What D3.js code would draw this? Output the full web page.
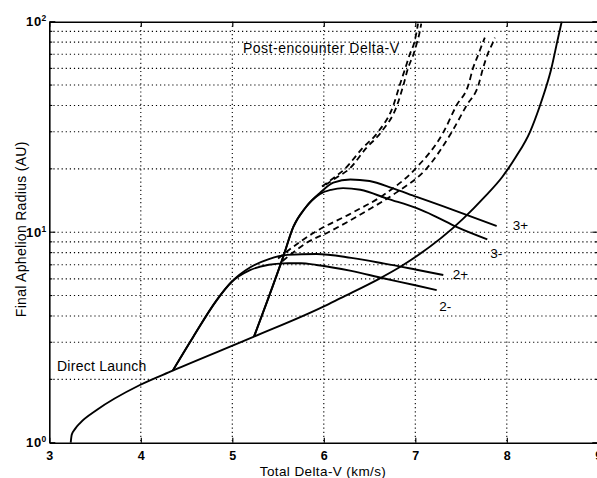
<!DOCTYPE html>
<html>
<head>
<meta charset="utf-8">
<script src="https://cdn.jsdelivr.net/npm/d3@7"></script>
<style>
  html, body { margin: 0; padding: 0; background: #fff; }
  svg { display: block; }
  text { font-family: "Liberation Sans", Arial, Helvetica, sans-serif; fill: #000; }
</style>
</head>
<body>
<svg id="chart" width="597" height="478"></svg>
<script>
// Total delta-V (km/s) vs final aphelion radius (AU)
const xTicks = [3, 4, 5, 6, 7, 8, 9];
const yDecades = [1, 10, 100];
const yDecadeExp = ["0", "1", "2"];

// Direct launch curve
const directLaunch = [
  [3.234, 1.0], [3.245, 1.09], [3.28, 1.16], [3.336, 1.24], [3.518, 1.43],
  [3.99, 1.88], [4.349, 2.20], [5.237, 3.19], [5.995, 4.43], [6.177, 4.85],
  [6.614, 6.04], [6.85, 6.91], [7.524, 11.6], [7.75, 14.6], [7.95, 18.3],
  [8.1, 22.8], [8.254, 30], [8.363, 40], [8.436, 50], [8.487, 60], [8.55, 80], [8.60, 100]
];

// Two-encounter branches
const curve2plus = [
  [4.349, 2.20], [4.574, 3.19], [4.83, 4.76], [4.993, 5.82], [5.193, 6.80],
  [5.40, 7.45], [5.6, 7.8], [5.92, 7.88], [6.3, 7.55],
  [6.65, 7.11], [7.0, 6.65], [7.306, 6.26]
];
const curve2minus = [
  [4.349, 2.20], [4.574, 3.19], [4.83, 4.76], [4.993, 5.80], [5.193, 6.6],
  [5.40, 7.0], [5.557, 7.11], [5.75, 7.12], [5.92, 6.99], [6.3, 6.55],
  [6.65, 6.04], [7.0, 5.6], [7.234, 5.31]
];

// Three-encounter branches
const curve3plus = [
  [5.237, 3.19], [5.393, 4.85], [5.557, 7.66], [5.667, 10.6], [5.795, 13.0],
  [5.96, 15.4], [6.104, 17.2], [6.29, 17.8], [6.5, 17.5], [6.75, 16.2],
  [7.015, 14.7], [7.3, 13.3], [7.56, 12.1], [7.889, 10.7]
];
const curve3minus = [
  [5.237, 3.19], [5.393, 4.85], [5.557, 7.66], [5.667, 10.6], [5.795, 13.0],
  [5.96, 15.2], [6.08, 15.9], [6.21, 16.2], [6.4, 15.9], [6.7, 14.4],
  [7.015, 13.0], [7.2, 12.0], [7.45, 10.6], [7.787, 9.25]
];

// Post-encounter delta-V curves (dashed)
const postA1 = [
  [5.98, 16.5], [6.1, 18], [6.23, 20], [6.42, 25], [6.595, 30], [6.76, 40],
  [6.83, 50], [6.89, 60], [6.94, 70], [6.99, 80], [7.015, 90], [7.03, 98]
];
const postA2 = [
  [6.02, 16.8], [6.14, 18.2], [6.28, 20], [6.46, 25], [6.63, 30], [6.80, 40],
  [6.87, 50], [6.92, 60], [6.98, 70], [7.02, 80], [7.05, 90], [7.065, 98]
];
const postB1 = [
  [5.50, 7.5], [5.74, 9], [5.90, 10], [6.3, 12.3], [6.65, 15], [7.0, 20],
  [7.31, 30], [7.45, 40], [7.58, 50], [7.63, 60], [7.69, 70], [7.74, 80], [7.76, 84]
];
const postB2 = [
  [5.55, 7.3], [5.83, 9], [6.05, 10], [6.45, 12.5], [6.8, 15.5], [7.12, 20],
  [7.40, 30], [7.56, 40], [7.69, 50], [7.74, 60], [7.79, 70], [7.85, 80], [7.87, 84]
];

const branchLabels = [
  { text: "3+", at: [7.889, 10.7], dx: 16, dy: 4 },
  { text: "3-", at: [7.787, 9.25], dx: 3, dy: 19 },
  { text: "2+", at: [7.306, 6.26], dx: 9.5, dy: 4 },
  { text: "2-", at: [7.234, 5.31], dx: 2.5, dy: 21 }
];

const svg = d3.select("#chart");
const plotL = 49.3, plotR = 598.3, plotT = 21.7, plotB = 442.7;

const x = d3.scaleLinear().domain([3, 9]).range([plotL, plotR]);
const y = d3.scaleLog().domain([1, 100]).range([plotB, plotT]);

// Dotted grid
const minorY = [];
for (let d = 1; d < 100; d *= 10) for (let m = 1; m <= 9; m++) if (d * m > 1) minorY.push(d * m);
const grid = svg.append("g").attr("stroke", "#000").attr("stroke-width", 1.1)
  .attr("stroke-dasharray", "1.2,2.9");
grid.selectAll("line.gy").data(minorY).join("line").attr("class", "gy")
  .attr("x1", plotL).attr("x2", plotR).attr("y1", d => y(d)).attr("y2", d => y(d));
grid.selectAll("line.gx").data(xTicks.slice(1, -1)).join("line").attr("class", "gx")
  .attr("x1", d => x(d)).attr("x2", d => x(d)).attr("y1", plotT).attr("y2", plotB);

// Axes
const axisStyle = g => {
  g.select(".domain").attr("stroke", "#000").attr("stroke-width", 1.6);
  g.selectAll(".tick line").attr("stroke", "#000").attr("stroke-width", 1.2);
};
svg.append("g").attr("transform", `translate(0,${plotB})`)
  .call(d3.axisBottom(x).tickValues(xTicks).tickSizeInner(-5).tickSizeOuter(0).tickPadding(8)
    .tickFormat(d3.format("d")))
  .call(axisStyle)
  .call(g => g.selectAll("text").attr("font-size", 12.5).attr("font-weight", "bold")
    .attr("font-family", "Liberation Sans, Arial, sans-serif"));
svg.append("g").attr("transform", `translate(0,${plotT})`)
  .call(d3.axisTop(x).tickValues(xTicks).tickSizeInner(-5).tickSizeOuter(0).tickFormat(""))
  .call(axisStyle);

const yAxisLine = d3.axisLeft(y).tickValues([]).tickSizeOuter(0);
svg.append("g").attr("transform", `translate(${plotL},0)`).call(yAxisLine).call(axisStyle);
svg.append("g").attr("transform", `translate(${plotR},0)`).call(yAxisLine).call(axisStyle);

// Inward y ticks: long at decades, short at minors
const yTickMarks = svg.append("g").attr("stroke", "#000").attr("stroke-width", 1.1);
[[plotL, 1], [plotR, -1]].forEach(([x0, dir]) => {
  yTickMarks.append("g").selectAll("line").data(minorY.concat([1, 100])).join("line")
    .attr("x1", x0).attr("x2", d => x0 + dir * (yDecades.includes(d) ? 6 : 3))
    .attr("y1", d => y(d)).attr("y2", d => y(d));
});

// Decade labels 10^n
const yLab = svg.append("g").attr("font-size", 13).attr("font-weight", "bold");
yDecades.forEach((d, i) => {
  yLab.append("text").attr("x", 42).attr("y", y(d) + 4.5).attr("text-anchor", "end")
    .attr("letter-spacing", 0.8).text("10");
  yLab.append("text").attr("x", 41.5).attr("y", y(d) - 0.5).attr("font-size", 8.5)
    .text(yDecadeExp[i]);
});

// Axis titles
svg.append("text").attr("x", 323).attr("y", 475.5).attr("text-anchor", "middle")
  .attr("font-size", 13.5).attr("letter-spacing", 0.4).text("Total Delta-V (km/s)");
svg.append("text").attr("transform", `translate(26,${(plotT + plotB) / 2 - 3}) rotate(-90)`)
  .attr("text-anchor", "middle").attr("font-size", 14).attr("letter-spacing", 0.3)
  .text("Final Aphelion Radius (AU)");

// Curves
const line = d3.line().x(d => x(d[0])).y(d => y(d[1])).curve(d3.curveMonotoneX);
const plot = svg.append("g").attr("fill", "none").attr("stroke", "#000");
[directLaunch, curve2plus, curve2minus, curve3plus, curve3minus].forEach(s => {
  plot.append("path").attr("d", line(s)).attr("stroke-width", 1.9);
});
[postA1, postA2, postB1, postB2].forEach(s => {
  plot.append("path").attr("d", line(s)).attr("stroke-width", 1.8)
    .attr("stroke-dasharray", "6,4");
});

// Annotations
svg.append("text").attr("x", 243).attr("y", 53).attr("font-size", 14).attr("letter-spacing", 0.5)
  .text("Post-encounter Delta-V");
svg.append("text").attr("x", 57).attr("y", 371).attr("font-size", 14).attr("letter-spacing", 0.25)
  .text("Direct Launch");
svg.append("g").attr("font-size", 13.5).selectAll("text").data(branchLabels).join("text")
  .attr("x", d => x(d.at[0]) + d.dx).attr("y", d => y(d.at[1]) + d.dy)
  .text(d => d.text);
</script>
</body>
</html>
